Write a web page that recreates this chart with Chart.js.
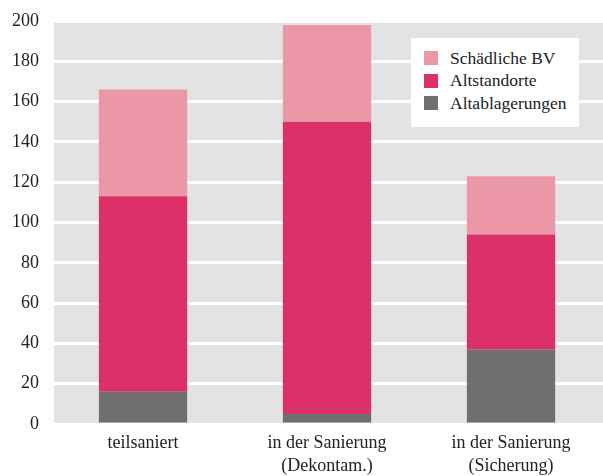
<!DOCTYPE html>
<html>
<head>
<meta charset="utf-8">
<script src="https://cdn.jsdelivr.net/npm/chart.js@4/dist/chart.umd.min.js"></script>
<style>
  body { margin: 0; background: #fff; }
  #wrap { position: relative; width: 603px; height: 476px; }
  #legend {
    position: absolute; left: 411px; top: 38px; width: 168px; height: 89px;
    background: #fff; box-sizing: border-box; padding: 9px 0 0 13px;
    font-family: "Liberation Serif", serif; font-size: 17.5px; color: #222;
  }
  #legend div { height: 22.5px; display: flex; align-items: center; }
  #legend span.sw { width: 14px; height: 14px; margin-right: 12px; display: inline-block; }
</style>
</head>
<body>
<div id="wrap">
  <canvas id="chart" width="603" height="476"></canvas>
  <div id="legend"></div>
</div>
<script>
// Kategorien und Werte
const categories = ["teilsaniert", ["in der Sanierung", "(Dekontam.)"], ["in der Sanierung", "(Sicherung)"]];
const altablagerungen = [16, 5, 37];
const altstandorte = [97, 145, 57];
const schaedlicheBV = [53, 48, 29];
const yTicks = [0, 20, 40, 60, 80, 100, 120, 140, 160, 180, 200];

// Hintergrund der Zeichenfläche
const plotBg = {
  id: "plotBg",
  beforeDraw(chart) {
    const { ctx, chartArea } = chart;
    ctx.save();
    ctx.fillStyle = "#e3e3e3";
    ctx.fillRect(chartArea.left + 3, chartArea.top, chartArea.right - chartArea.left - 3, chartArea.bottom - chartArea.top);
    ctx.restore();
  }
};

const chart = new Chart(document.getElementById("chart").getContext("2d"), {
  type: "bar",
  data: {
    labels: categories,
    datasets: [
      { label: "Altablagerungen", data: altablagerungen, backgroundColor: "#706f6e" },
      { label: "Altstandorte", data: altstandorte, backgroundColor: "#db3068" },
      { label: "Schädliche BV", data: schaedlicheBV, backgroundColor: "#eb97a7" }
    ]
  },
  options: {
    responsive: false,
    animation: false,
    layout: { padding: { top: 0, right: 0, left: 0, bottom: 0 } },
    datasets: { bar: { barPercentage: 0.48, categoryPercentage: 1 } },
    scales: {
      x: {
        stacked: true,
        grid: { display: false },
        border: { display: false },
        afterFit(scale) { scale.height = 52; },
        ticks: { color: "#222", font: { family: "Liberation Serif", size: 18, lineHeight: 1.28 }, maxRotation: 0, padding: 0 }
      },
      y: {
        stacked: true,
        min: 0,
        max: 200,
        afterBuildTicks(axis) { axis.ticks = yTicks.map(v => ({ value: v })); },
        grid: { color: "#ffffff", lineWidth: 3, drawTicks: false },
        border: { display: false },
        ticks: { color: "#222", font: { family: "Liberation Serif", size: 18, lineHeight: 1 }, padding: 12 }
      }
    },
    plugins: {
      legend: { display: false },
      tooltip: { enabled: false }
    }
  },
  plugins: [plotBg]
});

// Legende (umgekehrte Reihenfolge wie im Stapel)
const legend = document.getElementById("legend");
chart.data.datasets.slice().reverse().forEach(ds => {
  const row = document.createElement("div");
  row.innerHTML = '<span class="sw" style="background:' + ds.backgroundColor + '"></span>' + ds.label;
  legend.appendChild(row);
});
</script>
</body>
</html>
